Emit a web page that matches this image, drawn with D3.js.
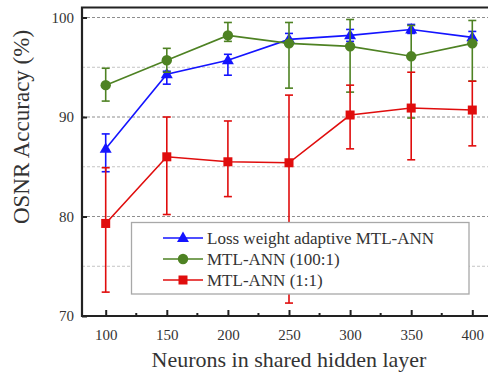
<!DOCTYPE html>
<html>
<head>
<meta charset="utf-8">
<script src="https://cdn.jsdelivr.net/npm/d3@7"></script>
<style>
  html, body { margin: 0; padding: 0; background: #fff; }
  svg { display: block; }
</style>
</head>
<body>
<svg id="chart" width="488" height="373"></svg>
<script>
// Hidden-layer sizes tested
const neurons = [100, 150, 200, 250, 300, 350, 400];

// Loss weight adaptive MTL-ANN: mean accuracy and error-bar bounds (%)
const adaptive   = [86.8, 94.3, 95.7, 97.8, 98.2, 98.8, 98.0];
const adaptiveHi = [88.3, 94.6, 96.3, 98.4, 98.8, 99.3, 98.6];
const adaptiveLo = [84.5, 93.3, 94.2, 97.2, 97.6, 98.4, 97.5];

// MTL-ANN with 100:1 loss weights
const mtl100   = [93.2, 95.7, 98.2, 97.4, 97.1, 96.1, 97.4];
const mtl100Hi = [94.9, 96.9, 99.5, 99.5, 99.8, 99.2, 99.7];
const mtl100Lo = [91.6, 94.5, 97.6, 92.9, 92.5, 89.9, 93.6];

// MTL-ANN with 1:1 loss weights
const mtl11   = [79.3, 86.0, 85.5, 85.4, 90.2, 90.9, 90.7];
const mtl11Hi = [84.9, 90.0, 89.6, 92.2, 93.2, 94.5, 93.6];
const mtl11Lo = [72.4, 80.2, 82.0, 71.3, 86.8, 85.7, 87.1];

const xTicks = [100, 150, 200, 250, 300, 350, 400];
const xMinorTicks = [125, 175, 225, 275, 325, 375];
const yTicks = [70, 80, 90, 100];
const yMinorGrid = [75, 85, 95];

const seriesNames = ["Loss weight adaptive MTL-ANN", "MTL-ANN (100:1)", "MTL-ANN (1:1)"];

const series = [
  { name: seriesNames[0], mean: adaptive, hi: adaptiveHi, lo: adaptiveLo, color: "#1414ff", shape: "triangle" },
  { name: seriesNames[1], mean: mtl100,   hi: mtl100Hi,   lo: mtl100Lo,   color: "#4e8223", shape: "circle" },
  { name: seriesNames[2], mean: mtl11,    hi: mtl11Hi,    lo: mtl11Lo,    color: "#e00d0d", shape: "square" }
];

const svg = d3.select("#chart");
const plotLeft = 82, plotTop = 7.5, plotBottom = 316, plotRight = 492;

const x = d3.scaleLinear().domain([100, 400]).range([105.7, 472.3]);
const y = d3.scaleLinear().domain([70, 100]).range([plotBottom, 17.5]);

const serif = "'Liberation Serif', 'Times New Roman', serif";

// grid lines
svg.append("g").selectAll("line").data(yMinorGrid).join("line")
  .attr("x1", plotLeft).attr("x2", plotRight)
  .attr("y1", d => y(d)).attr("y2", d => y(d))
  .attr("stroke", "#c4c4c4").attr("stroke-width", 1).attr("stroke-dasharray", "3,2");
svg.append("g").selectAll("line").data(yTicks.filter(d => d > 70)).join("line")
  .attr("x1", plotLeft).attr("x2", plotRight)
  .attr("y1", d => y(d)).attr("y2", d => y(d))
  .attr("stroke", "#8e8e8e").attr("stroke-width", 1).attr("stroke-dasharray", "3,2");

// x axis (ticks pointing inward)
const xAxis = svg.append("g").attr("transform", `translate(0,${plotBottom})`)
  .call(d3.axisBottom(x).tickValues(xTicks).tickSize(-6).tickPadding(13).tickFormat(d3.format("d")));
xAxis.select(".domain").remove();
xAxis.selectAll(".tick line").attr("stroke", "#222").attr("stroke-width", 2);
xAxis.selectAll(".tick text").attr("font-family", serif).attr("font-size", 15).attr("fill", "#333");
svg.append("g").selectAll("line").data(xMinorTicks).join("line")
  .attr("x1", d => x(d)).attr("x2", d => x(d))
  .attr("y1", plotBottom).attr("y2", plotBottom - 3)
  .attr("stroke", "#222").attr("stroke-width", 2);

// y axis
const yAxis = svg.append("g").attr("transform", `translate(${plotLeft},0)`)
  .call(d3.axisLeft(y).tickValues(yTicks).tickSize(-5).tickPadding(8).tickFormat(d3.format("d")));
yAxis.select(".domain").remove();
yAxis.selectAll(".tick line").attr("stroke", "#222").attr("stroke-width", 2);
yAxis.selectAll(".tick text").attr("font-family", serif).attr("font-size", 15).attr("fill", "#333");

// frame
svg.append("path")
  .attr("d", `M${plotRight},${plotTop}H${plotLeft}V${plotBottom}H${plotRight}`)
  .attr("fill", "none").attr("stroke", "#222").attr("stroke-width", 2.2);

// marker drawing
function marker(g, shape, color, cx, cy) {
  if (shape === "triangle") {
    g.append("path")
      .attr("d", d3.symbol(d3.symbolTriangle, 62)())
      .attr("transform", `translate(${cx},${cy + 0.5})`)
      .attr("fill", color);
  } else if (shape === "circle") {
    g.append("circle").attr("cx", cx).attr("cy", cy).attr("r", 5.2).attr("fill", color);
  } else {
    g.append("rect").attr("x", cx - 4.5).attr("y", cy - 4.5)
      .attr("width", 9).attr("height", 9).attr("fill", color);
  }
}

const line = d3.line().x(d => x(d[0])).y(d => y(d[1]));

series.forEach(s => {
  const g = svg.append("g");
  const pts = neurons.map((n, i) => [n, s.mean[i]]);
  g.append("path").datum(pts).attr("d", line)
    .attr("fill", "none").attr("stroke", s.color).attr("stroke-width", 1.6);
  neurons.forEach((n, i) => {
    const cx = x(n);
    g.append("line").attr("x1", cx).attr("x2", cx)
      .attr("y1", y(s.hi[i])).attr("y2", y(s.lo[i]))
      .attr("stroke", s.color).attr("stroke-width", 1.6);
    [s.hi[i], s.lo[i]].forEach(v => {
      g.append("line").attr("x1", cx - 4).attr("x2", cx + 4)
        .attr("y1", y(v)).attr("y2", y(v))
        .attr("stroke", s.color).attr("stroke-width", 1.6);
    });
    marker(g, s.shape, s.color, cx, y(s.mean[i]));
  });
});

// legend
const legend = svg.append("g");
legend.append("rect").attr("x", 131.5).attr("y", 222.5).attr("width", 337.5).attr("height", 71.5)
  .attr("fill", "#fff").attr("stroke", "#a8a8a8").attr("stroke-width", 1.3);
series.forEach((s, i) => {
  const ly = 238 + i * 21;
  legend.append("line").attr("x1", 163).attr("x2", 203).attr("y1", ly).attr("y2", ly)
    .attr("stroke", s.color).attr("stroke-width", 1.6);
  marker(legend, s.shape, s.color, 183, ly);
  legend.append("text").attr("x", 207).attr("y", ly).attr("dy", "0.35em")
    .attr("font-family", serif).attr("font-size", 17).attr("fill", "#333").text(s.name);
});

// axis titles
svg.append("text").attr("x", 289).attr("y", 367)
  .attr("text-anchor", "middle").attr("font-family", serif).attr("font-size", 22).attr("fill", "#333")
  .text("Neurons in shared hidden layer");
svg.append("text").attr("transform", "translate(29,127) rotate(-90)")
  .attr("text-anchor", "middle").attr("font-family", serif).attr("font-size", 23).attr("fill", "#333")
  .text("OSNR Accuracy (%)");
</script>
</body>
</html>
